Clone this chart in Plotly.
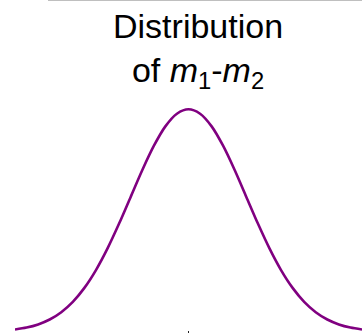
import plotly.graph_objects as go

# Standardised difference m1 - m2 (in standard deviations) and its density
z_values = [-3.0, -2.8, -2.6, -2.4, -2.2, -2.0, -1.8, -1.6, -1.4, -1.2, -1.0,
            -0.8, -0.6, -0.4, -0.2, 0.0, 0.2, 0.4, 0.6, 0.8, 1.0,
            1.2, 1.4, 1.6, 1.8, 2.0, 2.2, 2.4, 2.6, 2.8, 3.0]
density = [0.0044, 0.0079, 0.0136, 0.0224, 0.0355, 0.0540, 0.0790, 0.1109,
           0.1497, 0.1942, 0.2420, 0.2897, 0.3332, 0.3683, 0.3910, 0.3989,
           0.3910, 0.3683, 0.3332, 0.2897, 0.2420, 0.1942, 0.1497, 0.1109,
           0.0790, 0.0540, 0.0355, 0.0224, 0.0136, 0.0079, 0.0044]
center_tick = [0]
title_text = "Distribution<br>of <i>m</i><sub>1</sub>-<i>m</i><sub>2</sub>"

fig = go.Figure()
fig.add_trace(go.Scatter(
    x=z_values, y=density, mode="lines",
    line=dict(color="#800080", width=2.6, shape="spline", smoothing=0.8),
    hoverinfo="skip", cliponaxis=False,
))

fig.update_layout(
    width=362, height=333,
    margin=dict(l=15, r=0, t=0, b=0),
    paper_bgcolor="white", plot_bgcolor="white",
    showlegend=False,
    xaxis=dict(range=[-3, 3], showgrid=False, zeroline=False, showline=False,
               showticklabels=False, ticks="inside", ticklen=2, tickwidth=1,
               tickcolor="#222", tickvals=center_tick),
    yaxis=dict(range=[-0.0018, 0.5947], showgrid=False, zeroline=False,
               showline=False, showticklabels=False, ticks=""),
    annotations=[dict(
        text=title_text, xref="paper", yref="paper",
        x=(198 - 15) / 347, y=1, xanchor="center", yanchor="top",
        yshift=-5, showarrow=False, align="center",
        font=dict(family="Liberation Sans, Arial, sans-serif", size=34,
                  color="black"),
    )],
    shapes=[dict(type="line", xref="paper", yref="paper",
                 x0=(48 - 15) / 347, x1=1, y0=1, y1=1,
                 line=dict(color="#aaaaaa", width=1.5))],
)

fig.write_html("out.html")
